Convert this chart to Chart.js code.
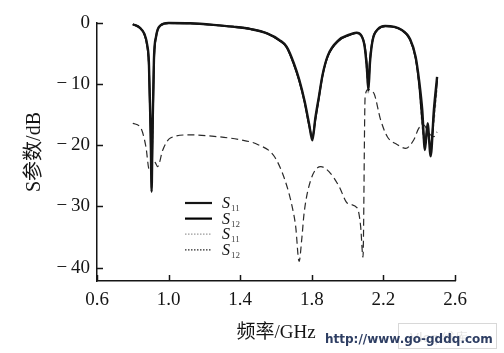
<!DOCTYPE html>
<html>
<head>
<meta charset="utf-8">
<script src="https://cdn.jsdelivr.net/npm/chart.js@4.4.0/dist/chart.umd.min.js"></script>
<style>
  html, body { margin: 0; padding: 0; background: #fff; }
  #wrap { position: relative; width: 504px; height: 353px; }
</style>
</head>
<body>
<div id="wrap"><canvas id="chart"></canvas></div>
<script>
// tick labels
const xTicks = [0.6, 1.0, 1.4, 1.8, 2.2, 2.6];
const yTicks = [-40, -30, -20, -10, 0];

// upper curves (GHz)
const freqTop = [0.80, 0.84, 0.865, 0.88, 0.89, 0.90, 0.905, 0.91, 0.918, 0.93, 0.955, 1.00, 1.12, 1.25, 1.36,
  1.46, 1.55, 1.62, 1.66, 1.70, 1.73, 1.76, 1.785, 1.803, 1.82, 1.84, 1.86, 1.89, 1.95, 2.01,
  2.05, 2.075, 2.095, 2.108, 2.116, 2.125, 2.14, 2.17, 2.21, 2.30, 2.35, 2.38, 2.40, 2.417, 2.432,
  2.447, 2.464, 2.482, 2.50];
const s11Sim = [-0.2, -0.8, -1.8, -3.5, -6.5, -18, -27.6, -18, -6, -2.2, -0.4, 0, -0.05, -0.3, -0.6,
  -1.0, -1.7, -2.8, -3.9, -6.6, -9.3, -12.8, -16.5, -19.2, -15.5, -12, -8.5, -5.3, -2.8, -1.9,
  -1.6, -2.0, -3.8, -7.5, -11.0, -6.5, -2.8, -1.0, -0.5, -1.1, -2.7, -5.5, -9.5, -14.2, -20.8,
  -16.4, -21.8, -14.2, -8.8];
const s12Sim = [-0.2, -0.8, -1.9, -3.7, -7, -19, -25.5, -19, -6.5, -2.3, -0.4, 0, -0.05, -0.3, -0.6,
  -1.0, -1.7, -2.9, -4.0, -6.8, -9.5, -13, -16.8, -18.6, -15.8, -12.2, -8.6, -5.4, -2.9, -2.0,
  -1.6, -2.0, -3.6, -7.0, -10.2, -6.0, -2.7, -1.0, -0.5, -1.1, -2.8, -5.8, -10.2, -16, -19.5,
  -17.5, -20.5, -15, -9.4];
const s11Meas = [-0.3, -0.9, -2.0, -4, -8, -16, -23, -21, -8, -2.5, -0.5, -0.1, -0.1, -0.4, -0.7,
  -1.1, -1.8, -3, -4.1, -7, -9.6, -13.2, -17, -19, -16, -12.4, -8.8, -5.6, -3.0, -2.0,
  -1.7, -2.1, -4.2, -9, -11.6, -7, -3, -1.2, -0.6, -1.2, -3, -6, -11, -17.5, -19.8,
  -18, -20, -16.5, -11];

// lower dashed curve
const freqLow = [0.80, 0.845, 0.873, 0.892, 0.902, 0.911, 0.925, 0.939, 0.967, 1.01, 1.12, 1.24, 1.40, 1.50, 1.59,
  1.65, 1.69, 1.71, 1.729, 1.745, 1.757, 1.794, 1.85, 1.896, 1.952, 2.00, 2.055, 2.073, 2.086, 2.098,
  2.114, 2.147, 2.184, 2.222, 2.278, 2.324, 2.37, 2.398, 2.426, 2.454, 2.482, 2.50];
const s12Meas = [-16.4, -17.2, -20.2, -24.0, -23.5, -22.4, -22.8, -23.5, -20.8, -18.8, -18.3, -18.5, -19.1, -19.9, -21.8,
  -25.7, -30.0, -33.3, -39.0, -35, -31.1, -25.7, -23.5, -24.3, -26.7, -29.5, -30.3, -33.3, -38.3, -12.0,
  -10.9, -11.5, -15.8, -18.6, -19.9, -20.5, -19.1, -17.2, -16.7, -18.0, -18.6, -17.8];

const legendSubs = ['11', '12', '11', '12'];

const toPts = (xs, ys) => xs.map((x, i) => ({ x: x, y: ys[i] }));
const serif = "'Liberation Serif', 'Noto Sans CJK SC', serif";
const ink = '#151515';

// ticks pointing into the plot, and the legend drawn inside it
const axisExtras = {
  id: 'axisExtras',
  afterDraw(chart) {
    const ctx = chart.ctx;
    const { x, y } = chart.scales;
    const area = chart.chartArea;
    ctx.save();
    ctx.strokeStyle = ink;
    ctx.lineWidth = 1.5;
    xTicks.forEach(v => {
      const px = Math.round(x.getPixelForValue(v)) + 0.5;
      ctx.beginPath(); ctx.moveTo(px, area.bottom); ctx.lineTo(px, area.bottom - 6); ctx.stroke();
    });
    yTicks.forEach(v => {
      const py = Math.round(y.getPixelForValue(v)) + 0.5;
      ctx.beginPath(); ctx.moveTo(area.left, py); ctx.lineTo(area.left + 6, py); ctx.stroke();
    });

    // legend
    const lx = area.left + 88, ly = area.top + 180;
    chart.data.datasets.forEach((ds, i) => {
      const yy = ly + i * 15.6;
      ctx.save();
      ctx.strokeStyle = ds.borderColor;
      ctx.lineWidth = i < 2 ? 2.2 : 1.2;
      ctx.setLineDash(i < 2 ? [] : [1.5, 1.5]);
      ctx.beginPath(); ctx.moveTo(lx, yy); ctx.lineTo(lx + 27, yy); ctx.stroke();
      ctx.restore();
      ctx.fillStyle = ink;
      ctx.font = "italic 16px 'Liberation Serif', serif";
      ctx.textBaseline = 'alphabetic';
      ctx.fillText('S', lx + 37, yy + 5);
      ctx.font = "9px 'Liberation Serif', serif";
      ctx.fillStyle = '#444';
      ctx.fillText(legendSubs[i], lx + 46, yy + 8);
    });

    // site watermark
    ctx.strokeStyle = '#d8d8d8';
    ctx.lineWidth = 1;
    ctx.strokeRect(398.5, 323.5, 98, 25);
    ctx.fillStyle = '#e2e2e2';
    ctx.font = "13px 'DejaVu Sans', sans-serif";
    ctx.fillText('Vlcq 维库', 410, 342);
    ctx.fillStyle = '#2e3e63';
    ctx.font = "bold 12px 'DejaVu Sans', sans-serif";
    ctx.fillText('http://www.go-gddq.com', 325, 343);
    ctx.restore();
  }
};

new Chart(document.getElementById('chart'), {
  type: 'line',
  data: {
    datasets: [
      { label: 'S11', data: toPts(freqTop, s11Sim), borderColor: ink, borderWidth: 2.4 },
      { label: 'S12', data: toPts(freqTop, s12Sim), borderColor: '#000', borderWidth: 1.8 },
      { label: 'S11', data: toPts(freqTop, s11Meas), borderColor: '#9a9a9a', borderWidth: 1, borderDash: [3, 2] },
      { label: 'S12', data: toPts(freqLow, s12Meas), borderColor: '#2a2a2a', borderWidth: 1.2, borderDash: [7, 4] }
    ]
  },
  options: {
    responsive: true,
    maintainAspectRatio: false,
    animation: false,
    datasets: {
      line: { pointRadius: 0, cubicInterpolationMode: 'monotone', clip: false, fill: false }
    },
    layout: { padding: { left: 0, top: 23, right: 49, bottom: 0 } },
    plugins: { legend: { display: false }, tooltip: { enabled: false } },
    scales: {
      x: {
        type: 'linear',
        min: 0.6,
        max: 2.6,
        afterBuildTicks: s => { s.ticks = xTicks.map(v => ({ value: v })); },
        afterFit: s => { s.height = 72; },
        grid: { display: false, drawTicks: false },
        border: { color: ink, width: 1.5 },
        ticks: {
          color: ink, padding: 8, maxRotation: 0, autoSkip: false,
          font: { family: serif, size: 19 },
          callback: v => Number(v).toFixed(1)
        },
        title: {
          display: true, text: '频率/GHz', color: ink,
          font: { family: serif, size: 19 },
          padding: { top: 0, bottom: 9 }
        }
      },
      y: {
        min: -42.2,
        max: 0,
        afterBuildTicks: s => { s.ticks = yTicks.map(v => ({ value: v })); },
        afterFit: s => { s.width = 97; },
        grid: { display: false, drawTicks: false },
        border: { color: ink, width: 1.5 },
        ticks: {
          color: ink, padding: 7, autoSkip: false,
          font: { family: serif, size: 19 },
          callback: v => v < 0 ? '\u2212\u2009' + Math.abs(v) : String(v)
        },
        title: {
          display: true, text: 'S参数/dB', color: ink,
          font: { family: serif, size: 20 },
          padding: { top: 23, bottom: 0 }
        }
      }
    }
  },
  plugins: [axisExtras]
});
</script>
</body>
</html>
